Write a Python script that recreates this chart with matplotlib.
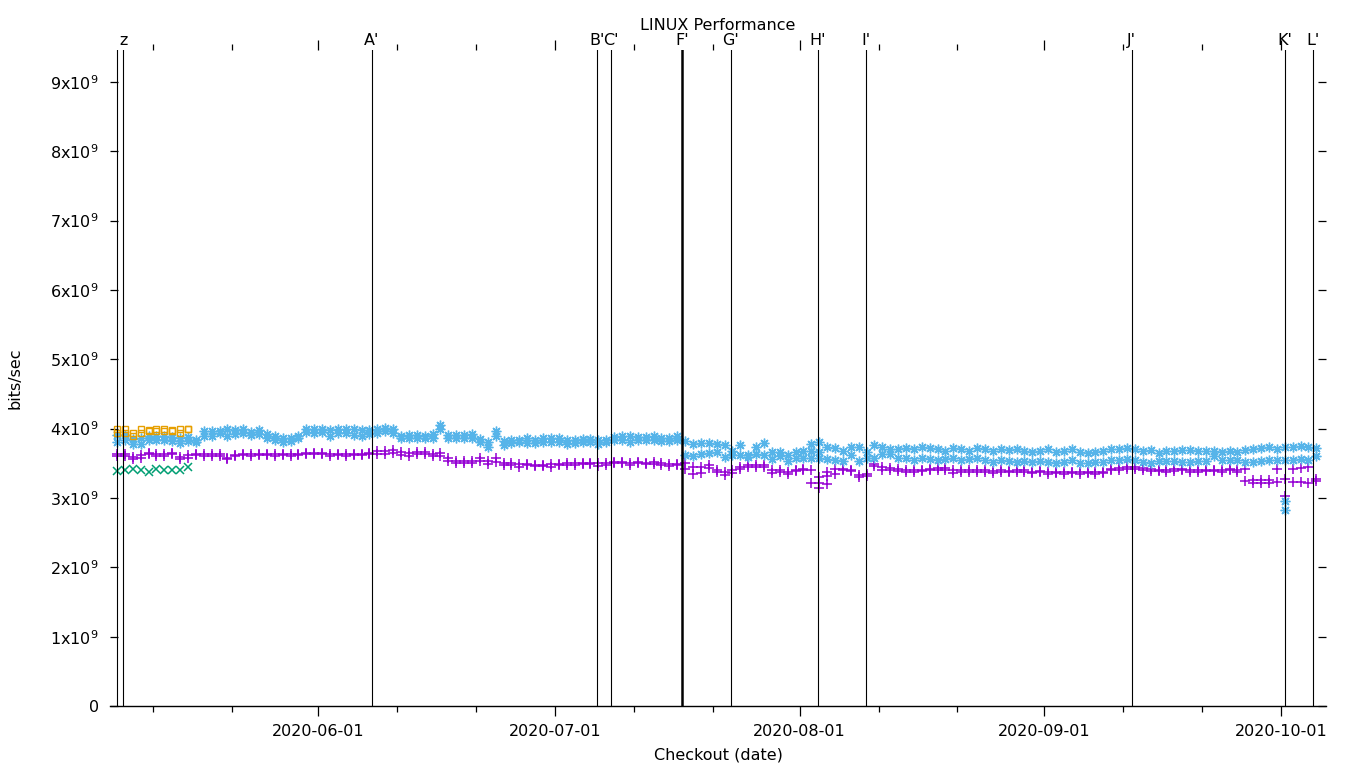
import matplotlib
matplotlib.use("Agg")
import matplotlib.pyplot as plt
import matplotlib.dates as mdates
import matplotlib.transforms as mtransforms
import pandas as pd
import numpy as np

# ---------------- data (values in units of 1e9 bits/sec) ----------------
start_date = "2020-05-06 11:30"

blue_hi = [3.91, 3.91, 3.85, 3.86, 3.90, 3.90, 3.90, 3.88, 3.86, 3.88,
           3.84, 3.96, 3.96, 3.97, 3.99, 3.98, 3.99, 3.95, 3.98, 3.92,
           3.90, 3.87, 3.87, 3.90, 3.99, 3.99, 3.99, 3.98, 3.99, 3.99,
           3.99, 3.98, 3.98, 3.99, 4.01, 4.00, 3.90, 3.91, 3.91, 3.90,
           3.92, 4.05, 3.91, 3.91, 3.91, 3.92, 3.85, 3.80, 3.96, 3.82,
           3.84, 3.84, 3.87, 3.84, 3.87, 3.86, 3.86, 3.84, 3.84, 3.85,
           3.85, 3.83, 3.84, 3.88, 3.89, 3.89, 3.88, 3.88, 3.89, 3.87,
           3.87, 3.89, 3.82, 3.78, 3.79, 3.79, 3.78, 3.76, 3.68, 3.76,
           3.62, 3.74, 3.79, 3.66, 3.66, 3.62, 3.67, 3.68, 3.78, 3.80,
           3.74, 3.72, 3.68, 3.73, 3.73, 3.66, 3.77, 3.74, 3.71, 3.70,
           3.72, 3.70, 3.74, 3.72, 3.70, 3.68, 3.72, 3.70, 3.68, 3.72,
           3.70, 3.68, 3.70, 3.69, 3.70, 3.68, 3.66, 3.68, 3.70, 3.66,
           3.68, 3.70, 3.66, 3.65, 3.66, 3.68, 3.70, 3.70, 3.72, 3.70,
           3.68, 3.69, 3.65, 3.68, 3.68, 3.69, 3.69, 3.68, 3.68, 3.68,
           3.67, 3.68, 3.67, 3.69, 3.70, 3.72, 3.74, 3.70, 3.73, 3.74,
           3.75, 3.74, 3.72]
blue_lo = [3.81, 3.83, 3.78, 3.78, 3.84, 3.84, 3.84, 3.82, 3.79, 3.82,
           3.80, 3.90, 3.90, 3.93, 3.90, 3.92, 3.93, 3.91, 3.92, 3.86,
           3.84, 3.80, 3.82, 3.86, 3.95, 3.93, 3.95, 3.90, 3.94, 3.94,
           3.91, 3.90, 3.92, 3.93, 3.96, 3.93, 3.86, 3.87, 3.87, 3.86,
           3.87, 3.99, 3.87, 3.86, 3.86, 3.87, 3.81, 3.74, 3.90, 3.77,
           3.79, 3.80, 3.79, 3.79, 3.80, 3.81, 3.81, 3.78, 3.79, 3.80,
           3.80, 3.78, 3.81, 3.83, 3.84, 3.81, 3.83, 3.83, 3.84, 3.82,
           3.82, 3.84, 3.62, 3.60, 3.64, 3.65, 3.66, 3.59, 3.62, 3.62,
           3.59, 3.63, 3.62, 3.56, 3.61, 3.54, 3.57, 3.57, 3.58, 3.57,
           3.56, 3.55, 3.54, 3.62, 3.54, 3.58, 3.57, 3.63, 3.63, 3.57,
           3.57, 3.55, 3.58, 3.56, 3.55, 3.56, 3.57, 3.55, 3.56, 3.57,
           3.55, 3.52, 3.55, 3.54, 3.52, 3.53, 3.52, 3.54, 3.52, 3.50,
           3.52, 3.55, 3.50, 3.50, 3.52, 3.52, 3.55, 3.55, 3.56, 3.55,
           3.52, 3.50, 3.53, 3.54, 3.53, 3.52, 3.52, 3.53, 3.54, 3.60,
           3.55, 3.55, 3.55, 3.52, 3.52, 3.53, 3.55, 3.55, 3.55, 3.55,
           3.56, 3.55, 3.60]
purple_hi = [3.64, 3.63, 3.59, 3.62, 3.65, 3.63, 3.63, 3.65, 3.59, 3.62,
             3.64, 3.63, 3.63, 3.63, 3.58, 3.62, 3.64, 3.63, 3.64, 3.64,
             3.63, 3.64, 3.63, 3.64, 3.65, 3.65, 3.65, 3.64, 3.64, 3.63,
             3.64, 3.64, 3.65, 3.68, 3.68, 3.69, 3.67, 3.65, 3.67, 3.66,
             3.64, 3.65, 3.58, 3.54, 3.53, 3.53, 3.58, 3.53, 3.57, 3.50,
             3.50, 3.49, 3.49, 3.48, 3.48, 3.49, 3.49, 3.51, 3.50, 3.51,
             3.51, 3.50, 3.51, 3.52, 3.52, 3.51, 3.52, 3.51, 3.52, 3.50,
             3.49, 3.49, 3.50, 3.44, 3.45, 3.47, 3.40, 3.37, 3.40, 3.44,
             3.47, 3.47, 3.47, 3.40, 3.41, 3.38, 3.41, 3.42, 3.41, 3.30,
             3.38, 3.42, 3.42, 3.41, 3.33, 3.35, 3.49, 3.44, 3.43, 3.42,
             3.41, 3.40, 3.41, 3.42, 3.43, 3.43, 3.40, 3.40, 3.41, 3.40,
             3.41, 3.39, 3.40, 3.39, 3.40, 3.40, 3.38, 3.39, 3.37, 3.38,
             3.37, 3.38, 3.37, 3.38, 3.37, 3.38, 3.42, 3.43, 3.45, 3.45,
             3.43, 3.42, 3.41, 3.40, 3.42, 3.42, 3.41, 3.40, 3.41, 3.41,
             3.41, 3.42, 3.41, 3.42, 3.26, 3.26, 3.26, 3.42, 3.27, 3.42,
             3.43, 3.44, 3.28]
purple_lo = [3.60, 3.60, 3.56, 3.58, 3.63, 3.60, 3.61, 3.63, 3.56, 3.58,
             3.62, 3.60, 3.61, 3.61, 3.56, 3.60, 3.62, 3.61, 3.62, 3.62,
             3.61, 3.62, 3.61, 3.62, 3.63, 3.63, 3.63, 3.60, 3.62, 3.60,
             3.62, 3.62, 3.63, 3.64, 3.64, 3.65, 3.62, 3.61, 3.63, 3.64,
             3.60, 3.61, 3.54, 3.50, 3.51, 3.51, 3.54, 3.49, 3.52, 3.48,
             3.48, 3.45, 3.47, 3.46, 3.46, 3.45, 3.47, 3.47, 3.48, 3.49,
             3.49, 3.46, 3.47, 3.50, 3.50, 3.47, 3.50, 3.49, 3.49, 3.48,
             3.46, 3.47, 3.42, 3.35, 3.36, 3.43, 3.37, 3.33, 3.36, 3.42,
             3.45, 3.45, 3.45, 3.36, 3.37, 3.34, 3.39, 3.40, 3.22, 3.15,
             3.32, 3.35, 3.40, 3.39, 3.30, 3.32, 3.46, 3.41, 3.40, 3.39,
             3.38, 3.38, 3.39, 3.40, 3.41, 3.40, 3.36, 3.37, 3.38, 3.38,
             3.38, 3.36, 3.37, 3.37, 3.38, 3.37, 3.36, 3.37, 3.35, 3.36,
             3.34, 3.36, 3.35, 3.36, 3.35, 3.36, 3.40, 3.40, 3.42, 3.42,
             3.41, 3.39, 3.39, 3.38, 3.39, 3.40, 3.38, 3.38, 3.39, 3.39,
             3.38, 3.40, 3.38, 3.24, 3.22, 3.22, 3.22, 3.23, 3.03, 3.23,
             3.23, 3.22, 3.24]
# a few extra individual runs (day index, value)
blue_extra_day = [148, 148, 88, 89]
blue_extra_val = [2.95, 2.82, 3.68, 3.66]
purple_extra_day = [89, 90]
purple_extra_val = [3.22, 3.20]

orange_hi = [4.00, 3.99, 3.93, 3.99, 3.98, 3.99, 3.99, 3.98, 4.00, 3.99]
orange_lo = [3.94, 3.94, 3.90, 3.93, 3.96, 3.96, 3.96, 3.96, 3.94, 3.99]
green_val = [3.39, 3.41, 3.42, 3.41, 3.37, 3.42, 3.40, 3.41, 3.40, 3.45]

event_labels = ["", "z", "A'", "B'", "C'", "F'", "G'", "H'", "I'", "J'", "K'", "L'"]
event_dates = ["2020-05-06 13:12", "2020-05-07 07:26", "2020-06-07 19:00",
               "2020-07-06 07:12", "2020-07-08 02:00", "2020-07-17 01:40",
               "2020-07-23 06:43", "2020-08-03 07:26", "2020-08-09 09:22",
               "2020-09-12 02:10", "2020-10-01 11:31", "2020-10-05 00:43"]
event_width = [0.8, 0.8, 0.8, 0.8, 0.8, 1.8, 0.8, 0.8, 0.8, 0.8, 0.8, 0.8]

yticks = [0, 1, 2, 3, 4, 5, 6, 7, 8, 9]

# ---------------- figure ----------------
W, H = 1360, 768
fig = plt.figure(figsize=(W / 100, H / 100), dpi=100)
ax = fig.add_axes([110 / W, 1 - 706 / H, (1326 - 110) / W, (706 - 50) / H])

dates = pd.date_range(start_date, periods=len(blue_hi), freq="D")
dates_short = dates[:len(orange_hi)]
scale = 1e9

C_PURPLE = "#9400D3"
C_GREEN = "#009E73"
C_BLUE = "#56B4E9"
C_ORANGE = "#E69F00"

mk = dict(linestyle="none")
for arr in (purple_hi, purple_lo):
    ax.plot(dates, np.array(arr) * scale, marker="+", ms=7, mew=1.1, color=C_PURPLE, **mk)
ax.plot(dates[purple_extra_day], np.array(purple_extra_val) * scale, marker="+", ms=7,
        mew=1.1, color=C_PURPLE, **mk)
ax.plot(dates_short, np.array(green_val) * scale, marker="x", ms=5.5, mew=1.1, color=C_GREEN, **mk)
for arr in (blue_hi, blue_lo):
    ax.plot(dates, np.array(arr) * scale, marker=(8, 2, 0), ms=7, mew=1.0, color=C_BLUE, **mk)
ax.plot(dates[blue_extra_day], np.array(blue_extra_val) * scale, marker=(8, 2, 0), ms=7,
        mew=1.0, color=C_BLUE, **mk)
for arr in (orange_hi, orange_lo):
    ax.plot(dates_short, np.array(arr) * scale, marker="s", ms=5, mew=1.0, mfc="none",
            color=C_ORANGE, **mk)

# event lines
trans = mtransforms.blended_transform_factory(ax.transData, ax.transAxes)
for lab, d, lw in zip(event_labels, event_dates, event_width):
    dt = pd.Timestamp(d)
    ax.axvline(dt, color="black", lw=lw, zorder=5)
    if lab:
        ax.text(dt, 1 + 5 / 656, lab, transform=trans, ha="center", va="baseline",
                fontsize=11.5, clip_on=False)

# limits
ax.set_xlim(pd.Timestamp("2020-05-05 14:24"), pd.Timestamp("2020-10-06 16:48"))
ax.set_ylim(0, 9.46e9)

# spines
for s in ("left", "right", "top"):
    ax.spines[s].set_visible(False)
ax.spines["bottom"].set_linewidth(1.0)

# y ticks
ax.set_yticks([v * scale for v in yticks])
ax.set_yticklabels(["0"] + [r"$%d\mathrm{x}10^{9}$" % v for v in yticks[1:]])
ax.tick_params(axis="y", which="major", direction="in", length=6, width=0.9,
               left=True, right=True, labelleft=True, labelright=False,
               labelsize=11.5, pad=8)

# x ticks
ax.xaxis.set_major_locator(mdates.MonthLocator(bymonthday=1))
ax.xaxis.set_major_formatter(mdates.DateFormatter("%Y-%m-%d"))
ax.xaxis.set_minor_locator(mdates.DayLocator(bymonthday=[11, 21]))
ax.tick_params(axis="x", which="major", direction="out", length=7, width=0.9,
               top=True, bottom=True, labelsize=11.5, pad=6)
ax.tick_params(axis="x", which="minor", direction="out", length=4, width=0.9,
               top=True, bottom=True)

fig.text(718 / W, 1 - 26 / H, "LINUX Performance", ha="center", va="center", fontsize=11.5)
fig.text(718 / W, 1 - 755 / H, "Checkout (date)", ha="center", va="center", fontsize=11.5)
fig.text(15 / W, 1 - 378 / H, "bits/sec", ha="center", va="center", rotation=90, fontsize=11.5)

fig.savefig("out.png", dpi=100)
